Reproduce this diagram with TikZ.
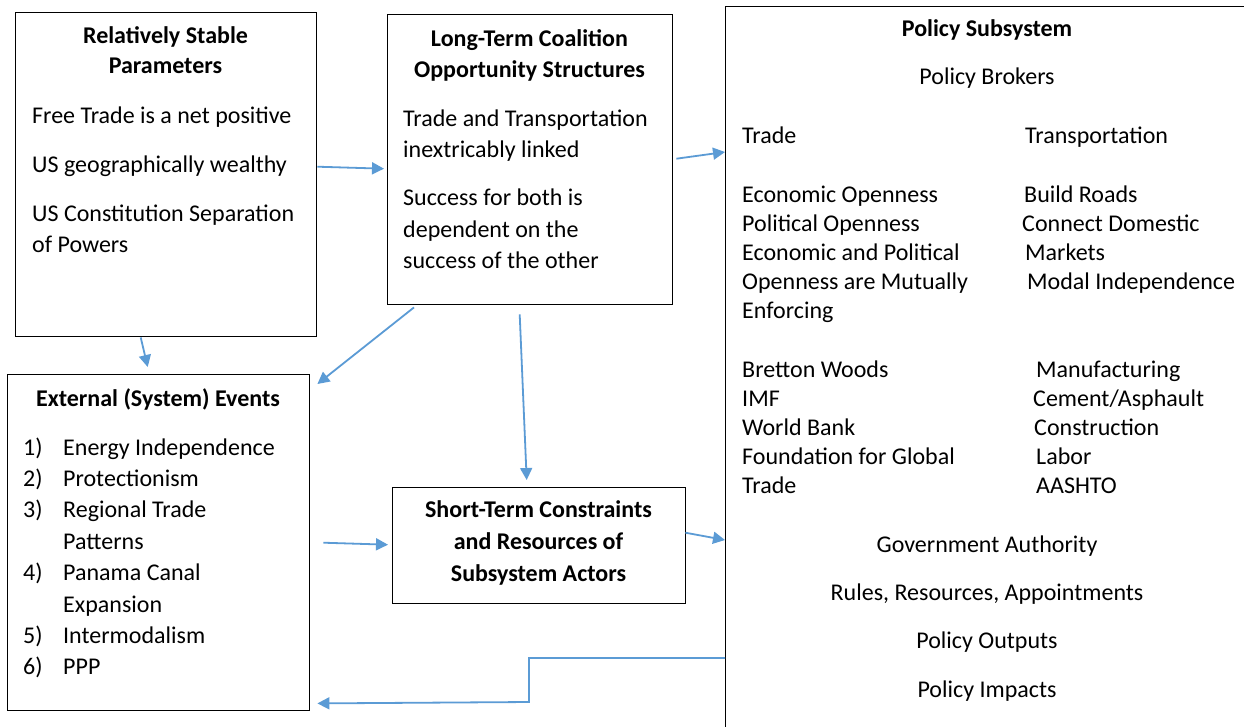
\documentclass[tikz,border=0pt]{standalone}
\usepackage{fontspec}
\setmainfont{Carlito}
\usetikzlibrary{arrows.meta,calc}
\definecolor{flow}{RGB}{91,155,213}
\tikzset{
  panel/.style={draw=black, line width=1.4pt, inner sep=0pt, anchor=north west},
  txt/.style={inner sep=0pt, anchor=base west, font=\fontsize{24}{30}\selectfont},
  ctxt/.style={txt, anchor=base},
  head/.style={inner sep=0pt, anchor=base, font=\fontsize{24}{30}\selectfont\bfseries},
  flowarrow/.style={draw=flow, line width=1.8pt, -{Triangle[length=12pt,width=12pt]}},
}
\begin{document}
\begin{tikzpicture}[x=1pt,y=-1pt]
\clip (0,0) rectangle (1244,726);
\fill[white] (0,0) rectangle (1244,726);

% panels
\node[panel, minimum width=301pt, minimum height=324pt] (A) at (15,12) {};
\node[panel, minimum width=285pt, minimum height=290pt] (B) at (387,14) {};
\node[panel, minimum width=302pt, minimum height=336pt] (C) at (7,374) {};
\node[panel, minimum width=293pt, minimum height=116pt] (D) at (392,487) {};
\node[panel, minimum width=700pt, minimum height=800pt] (E) at (725,6) {};

% relatively stable parameters
\node[head] (a1) at (165.5,43) {Relatively Stable};
\node[head] (a2) at (165.5,73) {Parameters};
\node[txt] (a3) at (32,123) {Free Trade is a net positive};
\node[txt] (a4) at (32,172) {US geographically wealthy};
\node[txt] (a5) at (32,221) {US Constitution Separation};
\node[txt] (a6) at (32,252) {of Powers};

% long-term coalition opportunity structures
\node[head] (b1) at (529.5,46) {Long-Term Coalition};
\node[head] (b2) at (529.5,77) {Opportunity Structures};
\node[txt] (b3) at (403,126) {Trade and Transportation};
\node[txt] (b4) at (403,157) {inextricably linked};
\node[txt] (b5) at (403,205) {Success for both is};
\node[txt] (b6) at (403,237) {dependent on the};
\node[txt] (b7) at (403,268) {success of the other};

% external (system) events
\node[head] (c0) at (158,406) {External (System) Events};
\node[txt] (c1n) at (23,455) {1)};
\node[txt] (c1) at (63,455) {Energy Independence};
\node[txt] (c2n) at (23,486) {2)};
\node[txt] (c2) at (63,486) {Protectionism};
\node[txt] (c3n) at (23,517) {3)};
\node[txt] (c3) at (63,517) {Regional Trade};
\node[txt] (c3b) at (63,549) {Patterns};
\node[txt] (c4n) at (23,580) {4)};
\node[txt] (c4) at (63,580) {Panama Canal};
\node[txt] (c4b) at (63,612) {Expansion};
\node[txt] (c5n) at (23,643) {5)};
\node[txt] (c5) at (63,643) {Intermodalism};
\node[txt] (c6n) at (23,674) {6)};
\node[txt] (c6) at (63,674) {PPP};

% short-term constraints
\node[head] (d1) at (538.5,517) {Short-Term Constraints};
\node[head] (d2) at (538.5,549) {and Resources of};
\node[head] (d3) at (538.5,581) {Subsystem Actors};

% policy subsystem
\node[head] (e0) at (987,36) {Policy Subsystem};
\node[ctxt] (e1) at (987,84) {Policy Brokers};
\node[txt] (l1) at (742,143) {Trade};
\node[txt] (l2) at (742,202) {Economic Openness};
\node[txt] (l3) at (742,231) {Political Openness};
\node[txt] (l4) at (742,260) {Economic and Political};
\node[txt] (l5) at (742,289) {Openness are Mutually};
\node[txt] (l6) at (742,318) {Enforcing};
\node[txt] (l7) at (742,377) {Bretton Woods};
\node[txt] (l8) at (742,406) {IMF};
\node[txt] (l9) at (742,435) {World Bank};
\node[txt] (l10) at (742,464) {Foundation for Global};
\node[txt] (l11) at (742,493) {Trade};
\node[txt] (r1) at (1025,143) {Transportation};
\node[txt] (r2) at (1024,202) {Build Roads};
\node[txt] (r3) at (1022,231) {Connect Domestic};
\node[txt] (r4) at (1025,260) {Markets};
\node[txt] (r5) at (1027,289) {Modal Independence};
\node[txt] (r7) at (1036,377) {Manufacturing};
\node[txt] (r8) at (1033,406) {Cement/Asphault};
\node[txt] (r9) at (1034,435) {Construction};
\node[txt] (r10) at (1036,464) {Labor};
\node[txt] (r11) at (1036,493) {AASHTO};
\node[ctxt] (e2) at (987,552) {Government Authority};
\node[ctxt] (e3) at (987,600) {Rules, Resources, Appointments};
\node[ctxt] (e4) at (987,648) {Policy Outputs};
\node[ctxt] (e5) at (987,697) {Policy Impacts};

% connectors
\draw[flowarrow] ($(A.east)+(0,-8)$) -- ($(B.west)+(-3,9)$);
\draw[flowarrow] ($(B.east)+(3,-1)$) -- ($(E.north west)+(0,146)$);
\draw[flowarrow] ($(A.south)+(-25.5,0)$) -- ($(C.north)+(-11,-7)$);
\draw[flowarrow] ($(B.south west)+(27,2)$) -- ($(C.north east)+(7,10)$);
\draw[flowarrow] ($(B.south)+(-10.5,9)$) -- ($(D.north)+(-12.5,-7)$);
\draw[flowarrow] ($(C.east)+(13,0)$) -- ($(D.west)+(-4,-1)$);
\draw[flowarrow] ($(D.east)+(-1,-13)$) -- ($(E.north west)+(0,534)$);
\coordinate (fbk) at (529,702);
\draw[flowarrow] ($(E.north west)+(0,652)$) -| (fbk) -- ($(C.south east)+(7,-8)$);
\end{tikzpicture}
\end{document}
